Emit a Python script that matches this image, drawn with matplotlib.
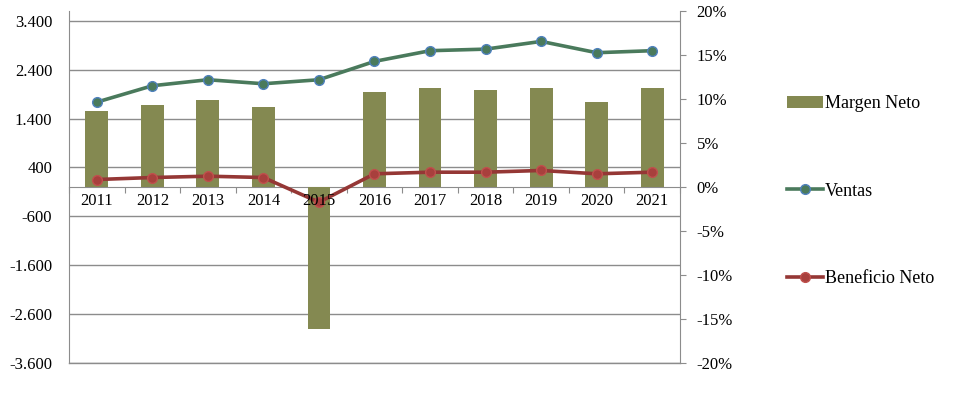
import matplotlib
matplotlib.use("Agg")
import matplotlib.pyplot as plt
import numpy as np
from matplotlib.lines import Line2D
from matplotlib.patches import Patch
from matplotlib.ticker import FuncFormatter, FixedLocator

plt.rcParams["font.family"] = ["Liberation Serif", "DejaVu Serif"]

years = ["2011", "2012", "2013", "2014", "2015", "2016",
         "2017", "2018", "2019", "2020", "2021"]
ventas = [1736, 2071, 2194, 2112, 2194, 2569, 2788, 2820, 2978, 2747, 2788]
beneficio = [153, 194, 221, 194, -311, 270, 303, 303, 338, 270, 303]
margen = [8.6, 9.3, 9.9, 9.1, -16.1, 10.8, 11.2, 11.0, 11.2, 9.7, 11.2]

left_ticks = [-3600, -2600, -1600, -600, 400, 1400, 2400, 3400]
right_ticks = [-20, -15, -10, -5, 0, 5, 10, 15, 20]

BAR_C = "#848951"
VENTAS_LINE = "#4A7A5C"
VENTAS_EDGE = "#4F81BD"
BEN_LINE = "#953735"
BEN_FACE = "#A8403D"
BEN_EDGE = "#C0504D"
GRID_C = "#8C8C8C"
FS = 12

x = np.arange(len(years))

fig = plt.figure(figsize=(9.77, 3.93), dpi=100)
ax = fig.add_axes([69 / 977, 30 / 393, 611 / 977, 352 / 393])

# grid / left scale axes
ax.set_xlim(-0.5, len(years) - 0.5)
ax.set_ylim(-3600, 3600)
ax.yaxis.set_major_locator(FixedLocator(left_ticks))
ax.yaxis.set_major_formatter(FuncFormatter(lambda v, p: f"{int(v):,}".replace(",", ".")))
ax.grid(axis="y", color=GRID_C, linewidth=1.0)
ax.axhline(-3600, color=GRID_C, linewidth=1.0, clip_on=False)
ax.set_axisbelow(True)
ax.tick_params(axis="y", length=0, pad=12, labelsize=FS)
for s in ["top", "right"]:
    ax.spines[s].set_visible(False)
ax.spines["left"].set_color(GRID_C)
ax.spines["bottom"].set_position(("data", 0))
ax.spines["bottom"].set_color(GRID_C)
ax.set_xticks(np.arange(-0.5, len(years), 1.0))
ax.set_xticklabels([])
ax.tick_params(axis="x", which="major", length=4, direction="out", color=GRID_C)

# bars on right (percent) scale
axb = ax.twinx()
axb.set_ylim(-20, 20)
axb.bar(x, margen, width=0.41, color=BAR_C, zorder=2)
axb.yaxis.set_major_locator(FixedLocator(right_ticks))
axb.yaxis.set_major_formatter(FuncFormatter(lambda v, p: f"{int(v)}%"))
axb.tick_params(axis="y", length=4, direction="out", color=GRID_C, pad=8, labelsize=FS)
for s in ["top", "left", "bottom"]:
    axb.spines[s].set_visible(False)
axb.spines["right"].set_color(GRID_C)

# lines on left scale, drawn on top
axl = ax.twinx()
axl.set_ylim(-3600, 3600)
axl.set_axis_off()
axl.plot(x, ventas, color=VENTAS_LINE, linewidth=2.6, marker="o", markersize=7,
         markerfacecolor=VENTAS_LINE, markeredgecolor=VENTAS_EDGE, markeredgewidth=1.0)
axl.plot(x, beneficio, color=BEN_LINE, linewidth=2.6, marker="o", markersize=7,
         markerfacecolor=BEN_FACE, markeredgecolor=BEN_EDGE, markeredgewidth=1.0)

# category labels sit above the bars, as in the source chart
for xi, yr in zip(x, years):
    axl.annotate(yr, (xi, 0), xytext=(0, -4), textcoords="offset points",
                 ha="center", va="top", fontsize=FS)

handles = [
    Patch(facecolor=BAR_C, edgecolor="none"),
    Line2D([], [], color=VENTAS_LINE, linewidth=2.6, marker="o", markersize=7,
           markerfacecolor=VENTAS_LINE, markeredgecolor=VENTAS_EDGE),
    Line2D([], [], color=BEN_LINE, linewidth=2.6, marker="o", markersize=7,
           markerfacecolor=BEN_FACE, markeredgecolor=BEN_EDGE),
]
fig.legend(handles, ["Margen Neto", "Ventas", "Beneficio Neto"],
           loc="upper left", bbox_to_anchor=(780 / 977, 1 - 88 / 393),
           frameon=False, fontsize=13, handlelength=2.0, handletextpad=0.1,
           labelspacing=3.9, borderaxespad=0)

fig.savefig("out.png", dpi=100)
